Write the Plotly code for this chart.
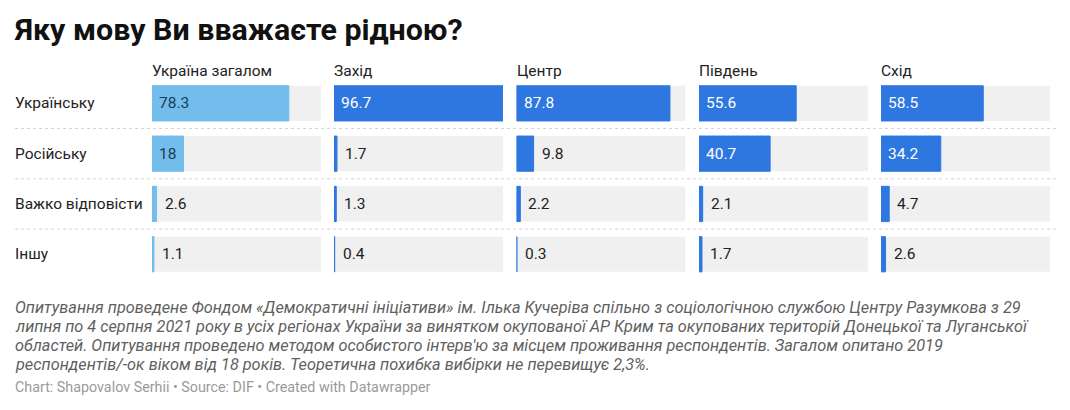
import plotly.graph_objects as go

# data
regions = ["Україна загалом", "Захід", "Центр", "Південь", "Схід"]
answers = ["Українську", "Російську", "Важко відповісти", "Іншу"]
values = {
    "Україна загалом": [78.3, 18, 2.6, 1.1],
    "Захід": [96.7, 1.7, 1.3, 0.4],
    "Центр": [87.8, 9.8, 2.2, 0.3],
    "Південь": [55.6, 40.7, 2.1, 1.7],
    "Схід": [58.5, 34.2, 4.7, 2.6],
}
title = "Яку мову Ви вважаєте рідною?"
note_lines = [
    "Опитування проведене Фондом «Демократичні ініціативи» ім. Ілька Кучеріва спільно з соціологічною службою Центру Разумкова з 29",
    "липня по 4 серпня 2021 року в усіх регіонах України за винятком окупованої АР Крим та окупованих територій Донецької та Луганської",
    "областей. Опитування проведено методом особистого інтерв'ю за місцем проживання респондентів. Загалом опитано 2019",
    "респондентів/-ок віком від 18 років. Теоретична похибка вибірки не перевищує 2,3%.",
]
credits = "Chart: Shapovalov Serhii • Source: DIF • Created with Datawrapper"

W, H = 1070, 410
FONT = "Roboto, Arial, sans-serif"
LIGHT = "#72bdec"
BLUE = "#2e77e0"
BG = "#f0f0f0"

max_val = max(max(v) for v in values.values())
panel_x0 = [152, 334, 516.5, 699, 881]
panel_w = 169

fig = go.Figure()
annotations = []

for i, reg in enumerate(regions):
    xa = "x" if i == 0 else f"x{i + 1}"
    color = LIGHT if i == 0 else BLUE
    vals = values[reg]
    # grey background bars
    fig.add_trace(go.Bar(
        x=[max_val] * len(answers), y=answers, orientation="h", xaxis=xa, yaxis="y",
        marker=dict(color=BG, line_width=0), hoverinfo="skip", showlegend=False,
    ))
    fig.add_trace(go.Bar(
        x=vals, y=answers, orientation="h", xaxis=xa, yaxis="y",
        marker=dict(color=color, line=dict(color=color, width=1)),
        showlegend=False, name=reg,
    ))
    for ans, v in zip(answers, vals):
        if v >= 15:
            tcolor = "#1f3a4d" if i == 0 else "white"
            annotations.append(dict(x=0, y=ans, xref=xa, yref="y", text=f"{v:g}", showarrow=False,
                                    xanchor="left", xshift=5, font=dict(size=15.5, color=tcolor, family=FONT)))
        else:
            annotations.append(dict(x=v, y=ans, xref=xa, yref="y", text=f"{v:g}", showarrow=False,
                                    xanchor="left", xshift=6, font=dict(size=15.5, color="#222", family=FONT)))
    annotations.append(dict(x=panel_x0[i] / W, y=1 - 71 / H, xref="paper", yref="paper", text=reg,
                            showarrow=False, xanchor="left", yanchor="middle", xshift=-2,
                            font=dict(size=15.5, color="#222", family=FONT)))
    fig.layout[("xaxis" if i == 0 else f"xaxis{i + 1}")] = dict(
        domain=[panel_x0[i] / W, (panel_x0[i] + panel_w) / W], range=[0, max_val],
        visible=False, fixedrange=True, anchor="y",
    )

# row labels
for ans in answers:
    annotations.append(dict(x=13 / W, y=ans, xref="paper", yref="y", text=ans, showarrow=False,
                            xanchor="left", font=dict(size=15.5, color="#222", family=FONT)))

# title, notes, credits
annotations.append(dict(x=12 / W, y=1 - 30 / H, xref="paper", yref="paper", text=f"<b>{title}</b>",
                        showarrow=False, xanchor="left", yanchor="middle",
                        font=dict(size=30.4, color="#111", family=FONT)))
for k, line in enumerate(note_lines):
    annotations.append(dict(x=13 / W, y=1 - (307 + 19.3 * k) / H, xref="paper", yref="paper",
                            text=f"<i>{line}</i>", showarrow=False, xanchor="left", yanchor="middle",
                            font=dict(size=16.3, color="#5f5f5f", family=FONT)))
annotations.append(dict(x=13 / W, y=1 - 387 / H, xref="paper", yref="paper", text=credits,
                        showarrow=False, xanchor="left", yanchor="middle",
                        font=dict(size=14.3, color="#9a9a9a", family=FONT)))

# dotted separators between rows
shapes = []
for k in range(len(answers) - 1):
    shapes.append(dict(type="line", xref="paper", yref="y", x0=15 / W, x1=1056 / W,
                       y0=k + 0.5, y1=k + 0.5, line=dict(color="#d6d6d6", width=1, dash="dot")))

fig.update_layout(
    width=W, height=H, margin=dict(l=0, r=0, t=0, b=0),
    paper_bgcolor="white", plot_bgcolor="white",
    barmode="overlay", bargap=0.3,
    yaxis=dict(domain=[1 - 279.4 / H, 1 - 78.2 / H], autorange="reversed", visible=False,
               fixedrange=True, categoryorder="array", categoryarray=answers),
    annotations=annotations, shapes=shapes,
    font=dict(family=FONT),
)

fig.write_html("out.html", config={"displayModeBar": False},
               post_script="document.body.style.margin='0';document.body.style.overflow='hidden';")
